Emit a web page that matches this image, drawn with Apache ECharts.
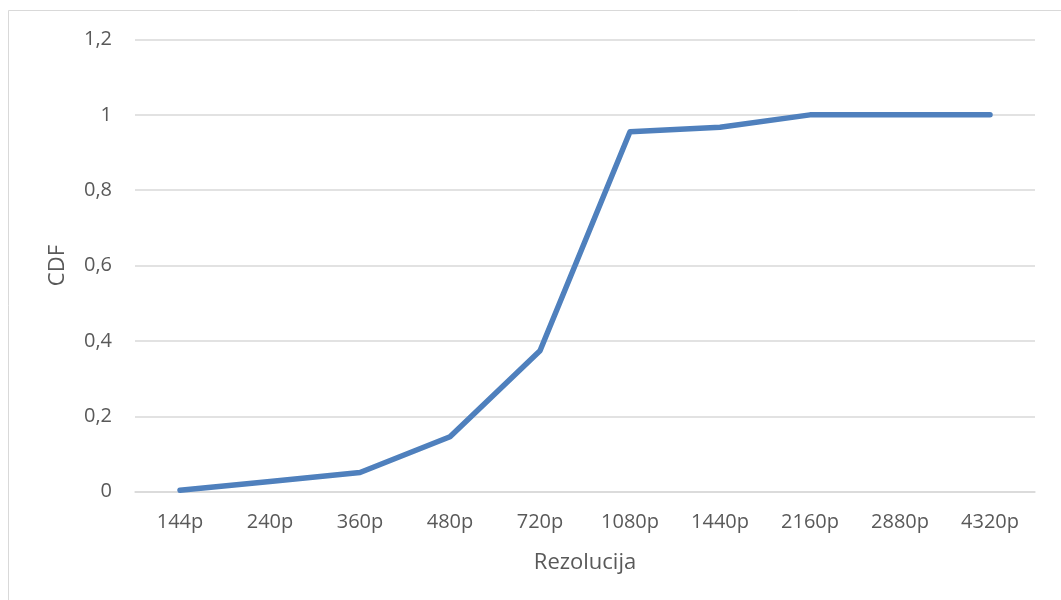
<!DOCTYPE html>
<html>
<head>
<meta charset="utf-8">
<style>
  html, body { margin: 0; padding: 0; background: #ffffff; }
  #chart { width: 1061px; height: 600px; }
</style>
<script src="https://cdn.jsdelivr.net/npm/echarts@6/dist/echarts.min.js"></script>
</head>
<body>
<div id="chart"></div>
<script>
// Resolution categories and cumulative share of videos (CDF)
const resolutions = ['144p', '240p', '360p', '480p', '720p', '1080p', '1440p', '2160p', '2880p', '4320p'];
const cdfValues = [0.004, 0.027, 0.051, 0.146, 0.374, 0.955, 0.967, 1.0, 1.0, 1.0];
const yTicks = { min: 0, max: 1.2, interval: 0.2 };

const FONT = '"Open Sans", "Liberation Sans", sans-serif';
const TEXT = '#595959';
const GRID = '#d9d9d9';

const chart = echarts.init(document.getElementById('chart'), null, { renderer: 'canvas' });

chart.setOption({
  backgroundColor: '#ffffff',
  animation: false,
  graphic: [{
    type: 'rect',
    shape: { x: 8.5, y: 10.5, width: 1070, height: 620 },
    style: { fill: 'none', stroke: '#d9d9d9', lineWidth: 1 },
    silent: true
  }],
  grid: { left: 135, right: 26, top: 39.5, bottom: 108.3, containLabel: false },
  xAxis: {
    type: 'category',
    data: resolutions,
    boundaryGap: true,
    name: 'Rezolucija',
    nameLocation: 'middle',
    nameGap: 60,
    nameTextStyle: { fontFamily: FONT, fontSize: 22, color: TEXT },
    axisLine: { show: true, lineStyle: { color: GRID, width: 1.5 } },
    axisTick: { show: false },
    axisLabel: { fontFamily: FONT, fontSize: 20, color: TEXT, margin: 21 },
    splitLine: { show: false }
  },
  yAxis: {
    type: 'value',
    min: yTicks.min,
    max: yTicks.max,
    interval: yTicks.interval,
    name: 'CDF',
    nameLocation: 'middle',
    nameGap: 66,
    nameRotate: 90,
    nameTextStyle: { fontFamily: FONT, fontSize: 22, color: TEXT },
    axisLine: { show: false },
    axisTick: { show: false },
    axisLabel: {
      fontFamily: FONT, fontSize: 20, color: TEXT, margin: 23,
      formatter: v => String(Math.round(v * 10) / 10).replace('.', ',')
    },
    splitLine: { show: true, lineStyle: { color: GRID, width: 1.5 } }
  },
  series: [{
    type: 'line',
    data: cdfValues,
    showSymbol: false,
    symbol: 'none',
    smooth: false,
    lineStyle: { color: '#4f80bd', width: 5.5, cap: 'round', join: 'round' },
    itemStyle: { color: '#4f80bd' }
  }]
});
</script>
</body>
</html>
